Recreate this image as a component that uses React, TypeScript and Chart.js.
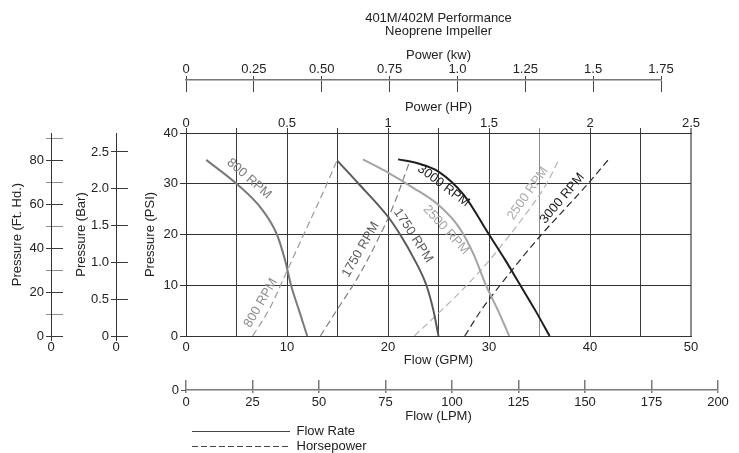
import React, { useEffect, useRef } from 'react';
import { Chart, registerables } from 'chart.js';

Chart.register(...registerables);

const FONT = "'Liberation Sans', Arial, Helvetica, sans-serif";
const INK = '#222222';

const titleLines = ['401M/402M Performance', 'Neoprene Impeller'];

// ---- axis ranges ----
const gpmMax = 50;
const hpMax = 2.5;
const psiMax = 40;
const kwMax = 1.75;
const lpmMax = 200;
const ftHdMax = 92.3;
const barMax = 2.758;

// ---- tick labels ----
const hpTickLabels = ['0', '', '0.5', '', '1', '', '1.5', '', '2', '', '2.5'];
const kwTickLabels = ['0', '0.25', '0.50', '0.75', '1.0', '1.25', '1.5', '1.75'];
const barTickLabels = ['0', '0.5', '1.0', '1.5', '2.0', '2.5'];
const ftHdTickLabels = ['0', '', '20', '', '40', '', '60', '', '80', ''];

// ---- flow-rate curves: flow (GPM) vs pressure (PSI) ----
const flow800Gpm = [2, 5, 7.5, 9, 9.8, 10.4, 11.2, 12];
const flow800Psi = [34.7, 30, 25, 20, 15, 10, 5, 0];
const flow1750Gpm = [15, 17, 20, 21.2, 22.5, 23.8, 24.5, 25];
const flow1750Psi = [34.5, 30.2, 23.5, 20, 15.5, 10, 5, 0];
const flow2500Gpm = [17.5, 20, 22.5, 25, 27, 28.5, 29.7, 30.9, 32];
const flow2500Psi = [34.8, 32.2, 29.2, 25.8, 21.5, 16, 10, 5, 0];
const flow3000Gpm = [21, 23, 25, 27.5, 30, 31.6, 33.1, 34.6, 36];
const flow3000Psi = [34.8, 34.0, 32.4, 27.8, 20, 15, 10, 5, 0];

// ---- horsepower curves: power (HP) vs pressure (PSI) ----
const hp800Hp = [0.33, 0.415, 0.5, 0.6, 0.68, 0.75];
const hp800Psi = [0, 5.5, 12.8, 21.5, 28.4, 34.8];
const hp1750Hp = [0.665, 0.75, 0.85, 0.95, 1.025, 1.11];
const hp1750Psi = [0, 5.3, 11.5, 19, 25.5, 34.7];
const hp2500Hp = [1.13, 1.25, 1.39, 1.5, 1.605, 1.7, 1.785, 1.845];
const hp2500Psi = [0, 4.5, 10, 14.8, 20, 25, 30, 34.7];
const hp3000Hp = [1.38, 1.46, 1.555, 1.655, 1.76, 1.875, 1.99, 2.09];
const hp3000Psi = [0, 5, 10, 15, 20, 25, 30, 34.7];

const legendLabels = ['Flow Rate', 'Horsepower'];

// curve annotations (anchored in data units: GPM / PSI)
const curveLabels = [
  { text: '800 RPM', gpm: 6.25, psi: 31.0, angle: 41, color: '#7a7a7a' },
  { text: '800 RPM', gpm: 7.4, psi: 6.5, angle: -60, color: '#8c8c8c' },
  { text: '1750 RPM', gpm: 17.3, psi: 17.0, angle: -60, color: '#5a5a5a' },
  { text: '1750 RPM', gpm: 22.5, psi: 19.8, angle: 57, color: '#5a5a5a' },
  { text: '3000 RPM', gpm: 25.5, psi: 29.6, angle: 37, color: '#1e1e1e' },
  { text: '2500 RPM', gpm: 25.75, psi: 20.9, angle: 48, color: '#a4a4a4' },
  { text: '2500 RPM', gpm: 33.85, psi: 28.1, angle: -55, color: '#ababab' },
  { text: '3000 RPM', gpm: 37.25, psi: 27.1, angle: -50, color: '#1e1e1e' },
];

const toPoints = (xs: number[], ys: number[]) => xs.map((x, i) => ({ x, y: ys[i] }));

const curveLabelPlugin = {
  id: 'curveLabels',
  afterDatasetsDraw(chart: any) {
    const { ctx, scales } = chart;
    ctx.save();
    ctx.font = `13px ${FONT}`;
    ctx.textAlign = 'center';
    ctx.textBaseline = 'middle';
    for (const l of curveLabels) {
      const x = scales.x.getPixelForValue(l.gpm);
      const y = scales.y.getPixelForValue(l.psi);
      ctx.save();
      ctx.translate(x, y);
      ctx.rotate((l.angle * Math.PI) / 180);
      ctx.fillStyle = l.color;
      ctx.fillText(l.text, 0, 0);
      ctx.restore();
    }
    ctx.restore();
  },
};

const tickFont = { size: 13, lineHeight: 1 };
const noPlugins = { legend: { display: false }, tooltip: { enabled: false } };

const dummyAxis = (position: string, width: number) => ({
  type: 'linear',
  position,
  display: true,
  ticks: { display: false },
  grid: { display: false },
  border: { display: false },
  afterFit: (s: any) => {
    s.width = width;
  },
});

function mainConfig(): any {
  const flow = (xs: number[], ys: number[], color: string) => ({
    data: toPoints(xs, ys),
    xAxisID: 'x',
    yAxisID: 'y',
    borderColor: color,
    borderWidth: 2,
    pointRadius: 0,
    fill: false,
    cubicInterpolationMode: 'monotone',
  });
  const hp = (xs: number[], ys: number[], color: string) => ({
    data: toPoints(xs, ys),
    xAxisID: 'xHP',
    yAxisID: 'y',
    borderColor: color,
    borderWidth: 1.2,
    borderDash: [7, 4],
    pointRadius: 0,
    fill: false,
    cubicInterpolationMode: 'monotone',
  });
  return {
    type: 'line',
    data: {
      datasets: [
        flow(flow800Gpm, flow800Psi, '#7a7a7a'),
        flow(flow1750Gpm, flow1750Psi, '#5a5a5a'),
        flow(flow2500Gpm, flow2500Psi, '#a4a4a4'),
        flow(flow3000Gpm, flow3000Psi, '#1e1e1e'),
        hp(hp800Hp, hp800Psi, '#999999'),
        hp(hp1750Hp, hp1750Psi, '#808080'),
        hp(hp2500Hp, hp2500Psi, '#b4b4b4'),
        hp(hp3000Hp, hp3000Psi, '#2a2a2a'),
      ],
    },
    options: {
      responsive: false,
      animation: false,
      events: [],
      layout: { padding: { left: 130, right: 48, top: 0, bottom: 85 } },
      plugins: {
        ...noPlugins,
        title: {
          display: true,
          text: titleLines,
          fullSize: false,
          color: INK,
          font: { size: 13, weight: 'normal', lineHeight: 1 },
          padding: { top: 11.5, bottom: 52.5 },
        },
      },
      scales: {
        x: {
          type: 'linear',
          position: 'bottom',
          min: 0,
          max: gpmMax,
          afterFit: (s: any) => {
            s.height = 32;
          },
          ticks: { stepSize: 10, padding: 4.5, font: tickFont, maxRotation: 0, autoSkip: false },
          grid: { drawOnChartArea: false, drawTicks: false },
          border: { color: '#333' },
          title: { display: true, text: 'Flow (GPM)', padding: { top: 0, bottom: 0 } },
        },
        xHP: {
          type: 'linear',
          position: 'top',
          min: 0,
          max: hpMax,
          afterFit: (s: any) => {
            s.height = 43;
          },
          ticks: {
            stepSize: 0.25,
            padding: -1.5,
            font: tickFont,
            maxRotation: 0,
            autoSkip: false,
            callback: (_v: any, i: number) => hpTickLabels[i] ?? '',
          },
          grid: {
            tickLength: 5,
            color: (c: any) => (c.index === 7 || c.index === 10 ? '#8c8c8c' : '#3a3a3a'),
            lineWidth: (c: any) => (c.index === 10 ? 2 : 1),
          },
          border: { color: '#333' },
          title: { display: true, text: 'Power (HP)', padding: { top: 10, bottom: 0 } },
        },
        y: {
          type: 'linear',
          position: 'left',
          min: 0,
          max: psiMax,
          afterFit: (s: any) => {
            s.width = 56;
          },
          ticks: { stepSize: 10, padding: 2, font: tickFont },
          grid: { color: '#333', tickLength: 6 },
          border: { color: '#333' },
          title: { display: true, text: 'Pressure (PSI)', padding: { top: 13, bottom: 0 } },
        },
      },
    },
    plugins: [curveLabelPlugin],
  };
}

function kwConfig(): any {
  return {
    type: 'line',
    data: { datasets: [] },
    options: {
      responsive: false,
      animation: false,
      events: [],
      layout: { padding: { left: 0, right: 0, top: 0, bottom: 8 } },
      plugins: {
        ...noPlugins,
        title: {
          display: true,
          text: 'Power (kw)',
          color: INK,
          font: { size: 13, weight: 'normal', lineHeight: 1.2 },
          padding: { top: 48, bottom: 0 },
        },
      },
      scales: {
        x: {
          type: 'linear',
          position: 'top',
          min: 0,
          max: kwMax,
          afterFit: (s: any) => {
            s.height = 16.4;
          },
          ticks: {
            stepSize: 0.25,
            padding: 0.5,
            font: tickFont,
            maxRotation: 0,
            autoSkip: false,
            callback: (_v: any, i: number) => kwTickLabels[i] ?? '',
          },
          grid: { color: '#444', tickLength: 4 },
          border: { color: '#777', width: 1.5 },
        },
        yl: dummyAxis('left', 18),
        yr: dummyAxis('right', 48),
      },
    },
  };
}

function lpmConfig(): any {
  return {
    type: 'line',
    data: { datasets: [] },
    options: {
      responsive: false,
      animation: false,
      events: [],
      layout: { padding: { left: 0, right: 0, top: 20, bottom: 29.2 } },
      plugins: {
        ...noPlugins,
        title: {
          display: true,
          position: 'bottom',
          text: 'Flow (LPM)',
          color: INK,
          font: { size: 13, weight: 'normal', lineHeight: 1.2 },
          padding: { top: 0.2, bottom: 0 },
        },
      },
      scales: {
        x: {
          type: 'linear',
          position: 'bottom',
          min: 0,
          max: lpmMax,
          afterFit: (s: any) => {
            s.height = 18;
          },
          ticks: { stepSize: 25, padding: 2.5, font: tickFont, maxRotation: 0, autoSkip: false },
          grid: { color: '#7a7a7a', lineWidth: 1.5, tickLength: 3 },
          border: { color: '#7a7a7a', width: 1.5 },
        },
        y: {
          type: 'linear',
          position: 'left',
          min: 0,
          max: 1,
          afterFit: (s: any) => {
            s.width = 46;
          },
          afterBuildTicks: (s: any) => {
            s.ticks = [{ value: 0 }];
          },
          ticks: { padding: 2, font: tickFont },
          grid: { drawOnChartArea: false, tickLength: 5, color: '#555' },
          border: { display: false },
        },
        yr: dummyAxis('right', 19),
      },
    },
  };
}

function sideConfig(
  title: string,
  max: number,
  step: number,
  labels: string[],
  padLeft: number,
  titlePad: number,
  minorGray: boolean
): any {
  return {
    type: 'line',
    data: { datasets: [] },
    options: {
      responsive: false,
      animation: false,
      events: [],
      layout: { padding: { left: padLeft, right: 17, top: 13, bottom: 4 } },
      plugins: { ...noPlugins },
      scales: {
        y: {
          type: 'linear',
          position: 'left',
          min: 0,
          max,
          afterFit: (s: any) => {
            s.width = 47;
          },
          ticks: {
            stepSize: step,
            includeBounds: false,
            autoSkip: false,
            padding: 2,
            font: tickFont,
            callback: (_v: any, i: number) => labels[i] ?? '',
          },
          grid: {
            tickLength: 5,
            color: (c: any) => (minorGray && c.index % 2 === 1 ? '#8c8c8c' : '#3a3a3a'),
          },
          border: { color: '#333' },
          title: { display: true, text: title, padding: { top: titlePad, bottom: 0 } },
        },
        x: {
          type: 'linear',
          position: 'bottom',
          min: 0,
          max: 1,
          afterFit: (s: any) => {
            s.height = 20;
          },
          afterBuildTicks: (s: any) => {
            s.ticks = [{ value: 0 }];
          },
          ticks: { padding: 0, font: tickFont, maxRotation: 0 },
          grid: { drawOnChartArea: false, tickLength: 5, color: '#333' },
          border: { display: false },
        },
      },
    },
  };
}

function legendConfig(): any {
  return {
    type: 'line',
    data: {
      datasets: [
        { label: legendLabels[0], data: [], borderColor: '#444', borderWidth: 1, borderDash: [] },
        { label: legendLabels[1], data: [], borderColor: '#444', borderWidth: 1, borderDash: [6, 3] },
      ],
    },
    options: {
      responsive: false,
      animation: false,
      events: [],
      layout: { padding: 0 },
      scales: { x: { display: false }, y: { display: false } },
      plugins: {
        tooltip: { enabled: false },
        legend: {
          display: true,
          position: 'top',
          align: 'start',
          labels: {
            usePointStyle: true,
            pointStyle: 'line',
            pointStyleWidth: 98,
            padding: 2,
            color: INK,
            font: { size: 13 },
            generateLabels: (chart: any) =>
              chart.data.datasets.map((ds: any, i: number) => ({
                text: ds.label,
                strokeStyle: ds.borderColor,
                fillStyle: 'rgba(0,0,0,0)',
                lineWidth: ds.borderWidth,
                lineDash: ds.borderDash,
                pointStyle: 'line',
                hidden: false,
                datasetIndex: i,
                fontColor: INK,
              })),
          },
        },
      },
    },
  };
}

export default function App() {
  const mainRef = useRef<HTMLCanvasElement>(null);
  const kwRef = useRef<HTMLCanvasElement>(null);
  const lpmRef = useRef<HTMLCanvasElement>(null);
  const ftRef = useRef<HTMLCanvasElement>(null);
  const barRef = useRef<HTMLCanvasElement>(null);
  const legendRef = useRef<HTMLCanvasElement>(null);

  useEffect(() => {
    Chart.defaults.font.family = FONT;
    Chart.defaults.font.size = 13;
    Chart.defaults.color = INK;
    const charts: Chart[] = [];
    charts.push(new Chart(mainRef.current as HTMLCanvasElement, mainConfig()));
    charts.push(new Chart(kwRef.current as HTMLCanvasElement, kwConfig()));
    charts.push(new Chart(lpmRef.current as HTMLCanvasElement, lpmConfig()));
    charts.push(
      new Chart(
        ftRef.current as HTMLCanvasElement,
        sideConfig('Pressure (Ft. Hd.)', ftHdMax, 10, ftHdTickLabels, 4, 5.2, true)
      )
    );
    charts.push(
      new Chart(
        barRef.current as HTMLCanvasElement,
        sideConfig('Pressure (Bar)', barMax, 0.5, barTickLabels, 4, 4.7, false)
      )
    );
    charts.push(new Chart(legendRef.current as HTMLCanvasElement, legendConfig()));
    return () => charts.forEach((c) => c.destroy());
  }, []);

  const abs = (left: number, top: number): React.CSSProperties => ({
    position: 'absolute',
    left,
    top,
    display: 'block',
  });

  return (
    <div
      style={{
        position: 'fixed',
        left: 0,
        top: 0,
        width: 739,
        height: 453,
        overflow: 'hidden',
        background: '#fff',
      }}
    >
      <canvas ref={mainRef} width={739} height={453} style={abs(0, 0)} />
      <canvas ref={kwRef} width={541} height={100} style={abs(168, 0)} />
      <canvas ref={lpmRef} width={597} height={93} style={abs(140, 360)} />
      <canvas ref={ftRef} width={80} height={240} style={abs(0, 120)} />
      <canvas ref={barRef} width={80} height={240} style={abs(65, 120)} />
      <canvas ref={legendRef} width={200} height={120} style={abs(190, 423)} />
    </div>
  );
}
